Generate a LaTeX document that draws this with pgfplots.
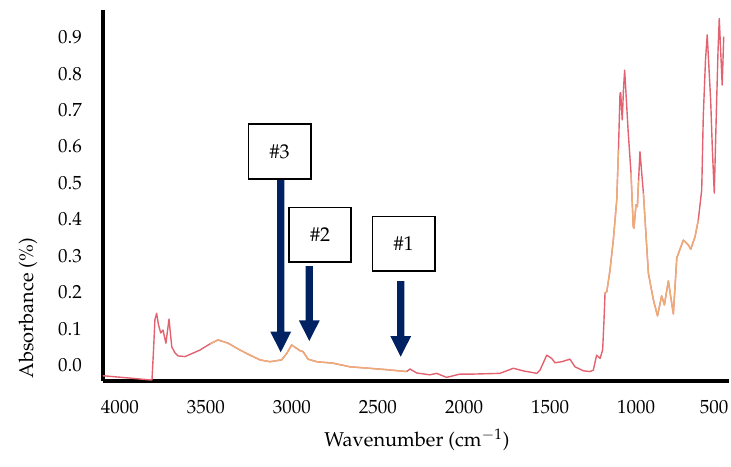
\documentclass[border=0pt]{standalone}
\usepackage[T1]{fontenc}
\usepackage{mathpazo}
\usepackage{pgfplots}
\pgfplotsset{compat=1.18}
\definecolor{specred}{RGB}{226,98,112}
\definecolor{specorange}{RGB}{240,184,118}
\definecolor{navy}{RGB}{0,33,98}
\newcommand{\darrow}[3]{%
 \fill[navy] (#1pt-1.8pt,#2pt) -- (#1pt+1.8pt,#2pt) -- (#1pt+1.8pt,#3pt+10.3pt) -- (#1pt+5.2pt,#3pt+10.3pt) -- (#1pt,#3pt) -- (#1pt-5.2pt,#3pt+10.3pt) -- (#1pt-1.8pt,#3pt+10.3pt) -- cycle;}
\newcommand{\lbox}[5]{%
 \draw[line width=0.8pt,fill=white] (#1pt,#2pt) rectangle (#3pt,#4pt);
 \node[font=\fontsize{10}{12}\selectfont,inner sep=0pt] at ({(#1pt+#3pt)/2},{(#2pt+#4pt)/2}) {#5};}
\begin{document}
\begin{tikzpicture}
\useasboundingbox (0,0) rectangle (365.5pt,233pt);
\begin{axis}[
  at={(51.5pt,42.5pt)}, anchor=south west,
  scale only axis, width=313pt, height=185.5pt,
  x dir=reverse,
  xmin=459.3, xmax=4098.8, ymin=-0.044, ymax=0.9753,
  axis x line=bottom, axis y line=left,
  axis line style={line width=2pt,-},
  major tick length=0pt,
  xtick={500,1000,1500,2000,2500,3000,3500,4000},
  xticklabels={\makebox[0pt][c]{\kern-4pt $500$\kern4pt},1000,1500,2000,2500,3000,3500,4000},
  ytick={0,0.1,0.2,0.3,0.4,0.5,0.6,0.7,0.8,0.9},
  scaled x ticks=false, scaled y ticks=false,
  xticklabel style={yshift=-6pt, font=\fontsize{9.5}{11}\selectfont},
  yticklabel style={/pgf/number format/fixed, /pgf/number format/fixed zerofill, /pgf/number format/precision=1, xshift=-7pt, font=\fontsize{9.5}{11}\selectfont},
]
\addplot[specred, line width=0.7pt, line join=round] coordinates {
(4099,-0.030)(4087,-0.030)(3942,-0.036)(3826,-0.041)(3814,-0.041)(3805,0.041)(3797,0.124)(3787,0.142)(3776,0.110)(3763,0.088)(3750,0.096)(3733,0.060)(3715,0.126)(3699,0.050)(3680,0.033)(3663,0.025)(3622,0.023)(3535,0.041)(3477,0.058)(3430,0.069)(3372,0.060)(3302,0.041)(3244,0.027)(3186,0.014)(3128,0.009)(3060,0.014)(3029,0.033)(3002,0.055)(2977,0.047)(2953,0.039)(2936,0.037)(2907,0.016)(2856,0.009)(2762,0.005)(2663,-0.005)(2471,-0.012)(2333,-0.018)(2314,-0.011)(2275,-0.022)(2198,-0.027)(2159,-0.023)(2101,-0.034)(2023,-0.025)(1948,-0.025)(1791,-0.023)(1713,-0.009)(1657,-0.016)(1577,-0.023)(1558,-0.014)(1519,0.027)(1490,0.018)(1471,0.006)(1432,0.009)(1384,0.016)(1355,-0.005)(1306,-0.016)(1267,-0.018)(1248,-0.014)(1229,0.027)(1209,0.018)(1194,0.041)(1186,0.124)(1180,0.198)(1170,0.201)(1151,0.261)(1132,0.343)(1112,0.453)(1102,0.591)(1093,0.746)(1089,0.748)(1080,0.673)(1073,0.755)(1066,0.810)(1056,0.728)(1045,0.637)(1029,0.527)(1016,0.380)(1012,0.376)(1000,0.440)(992,0.435)(985,0.508)(977,0.586)(957,0.472)(928,0.252)(899,0.179)(875,0.135)(851,0.190)(835,0.165)(812,0.231)(783,0.140)(763,0.294)(725,0.343)(696,0.330)(682,0.318)(657,0.352)(638,0.398)(618,0.481)(609,0.682)(596,0.838)(586,0.907)(566,0.728)(556,0.591)(545,0.472)(531,0.728)(523,0.865)(516,0.952)(499,0.769)(490,0.902)
};
\addplot[specorange, line width=0.7pt, opacity=0.85, line join=round] coordinates {
(3477,0.058)(3430,0.069)(3372,0.060)(3302,0.041)(3244,0.027)(3186,0.014)(3128,0.009)(3060,0.014)(3029,0.033)(3002,0.055)(2977,0.047)(2953,0.039)(2936,0.037)(2907,0.016)(2856,0.009)(2762,0.005)(2663,-0.005)(2471,-0.012)(2333,-0.018)
};
\addplot[specorange, line width=0.7pt, opacity=0.85, line join=round] coordinates {
(1180,0.198)(1170,0.201)(1151,0.261)(1132,0.343)(1112,0.453)(1102,0.591)
};
\addplot[specorange, line width=0.7pt, opacity=0.85, line join=round] coordinates {
(1029,0.527)(1016,0.380)(1012,0.376)(1000,0.440)(992,0.435)(985,0.508)
};
\addplot[specorange, line width=0.7pt, opacity=0.85, line join=round] coordinates {
(957,0.472)(928,0.252)(899,0.179)(875,0.135)(851,0.190)(835,0.165)(812,0.231)(783,0.140)(763,0.294)(725,0.343)(696,0.330)(682,0.318)(657,0.352)(638,0.398)
};
\end{axis}
\darrow{140.35}{143.5}{56.85}
\darrow{154.65}{100}{62.5}
\darrow{200.35}{92.5}{54.65}
\lbox{124.2}{143.5}{155.5}{171}{\#3}
\lbox{144.5}{102}{175.5}{129.2}{\#2}
\lbox{186.2}{97.4}{217.5}{124.7}{\#1}
\node[font=\fontsize{10}{12}\selectfont] at (208.5pt,13pt) {Wavenumber (cm$^{-1}$)};
\node[font=\fontsize{10}{12}\selectfont, rotate=90] at (14pt,79pt) {Absorbance (\%)};
\end{tikzpicture}
\end{document}
